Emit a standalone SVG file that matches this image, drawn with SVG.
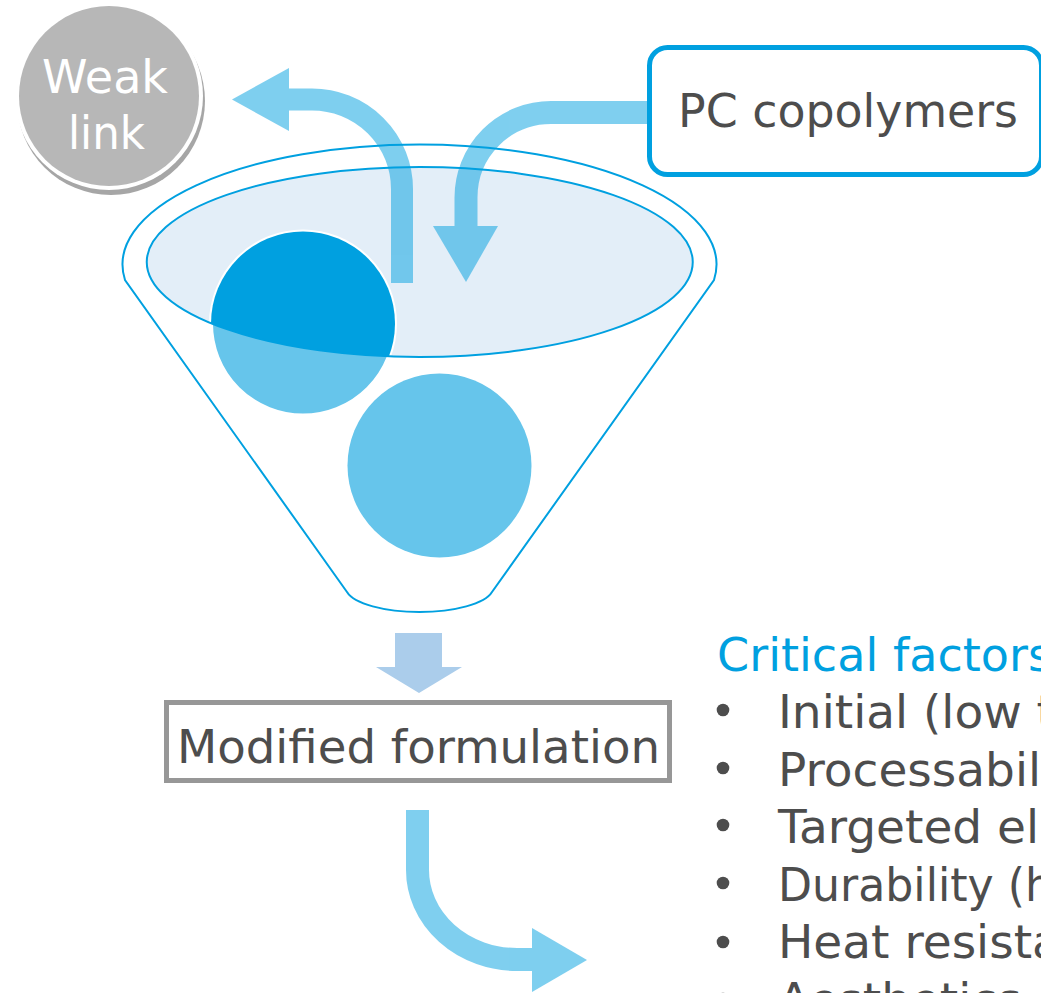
<svg xmlns="http://www.w3.org/2000/svg" width="1041" height="993" viewBox="0 0 1041 993">
  <defs>
    <style>
      text { font-family: "DejaVu Sans", "Liberation Sans", sans-serif; }
      .lbl { fill: #4d4d4d; font-size: 47px; }
      .wl { fill: #ffffff; font-size: 46px; }
      .head { fill: #00a0e0; font-size: 47px; }
      .flow { opacity: 0.5; }
      .flow path { fill: none; stroke: #00a0e0; }
      .flow polygon { fill: #00a0e0; }
      .line { fill: none; stroke: #00a0e0; stroke-width: 2; }
      .dot { fill: #4d4d4d; }
    </style>
    <clipPath id="mouth">
      <ellipse cx="419.75" cy="262" rx="273" ry="95"/>
    </clipPath>
  </defs>
  <rect width="1041" height="993" fill="#ffffff"/>

  <!-- funnel body, mouth and the two blended components -->
  <g id="funnel">
    <path class="line" fill="#ffffff" d="M347,592 L125,280 A297,120 0 1 1 714,280 L492,592 A74,25 0 0 1 347,592 Z"/>
    <ellipse cx="419.75" cy="262" rx="273" ry="95" fill="#e3eef8"/>
    <circle cx="303" cy="323.5" r="92" fill="#66c5eb" stroke="#ffffff" stroke-width="4"/>
    <circle cx="303" cy="323.5" r="92" fill="#00a0e0" clip-path="url(#mouth)"/>
    <circle cx="439.5" cy="465.5" r="92" fill="#66c5eb"/>
    <ellipse class="line" cx="419.75" cy="262" rx="273" ry="95"/>
  </g>

  <!-- flow arrows -->
  <g id="connectors">
    <g class="flow">
      <path stroke-width="22" d="M402,283 V189 A90,89.5 0 0 0 312,99.5 H288"/>
      <polygon points="289,68 232,99.5 289,131"/>
    </g>
    <g class="flow">
      <path stroke-width="23" d="M650,112.5 H551 A85,85 0 0 0 466,197.5 V228"/>
      <polygon points="433,226 498,226 466,282"/>
    </g>
    <polygon fill="#abcdeb" points="395,633 442,633 442,667 462,667 419,693 376,667 395,667"/>
    <g class="flow">
      <path stroke-width="23" d="M417.5,810 V870 A99.5,89.5 0 0 0 517,959.5 H534"/>
      <polygon points="532,928 587,960 532,992"/>
    </g>
  </g>

  <g id="weak-link">
    <circle cx="111" cy="101" r="94" fill="#a6a6a6"/>
    <circle cx="109" cy="96" r="94" fill="#ffffff"/>
    <circle cx="109" cy="96" r="90" fill="#b7b7b7"/>
    <text class="wl" x="42" y="93" textLength="126" lengthAdjust="spacingAndGlyphs">Weak</text>
    <text class="wl" x="68" y="149" textLength="77" lengthAdjust="spacingAndGlyphs">link</text>
  </g>

  <g id="pc-copolymers">
    <rect x="649.5" y="47.5" width="392" height="127" rx="18" fill="#ffffff" stroke="#00a0e0" stroke-width="5"/>
    <text class="lbl" x="678" y="127" textLength="340" lengthAdjust="spacingAndGlyphs">PC copolymers</text>
  </g>

  <g id="modified-formulation">
    <rect x="166.5" y="702.5" width="503" height="78" fill="#ffffff" stroke="#979797" stroke-width="5"/>
    <text class="lbl" x="177" y="763" textLength="483" lengthAdjust="spacingAndGlyphs">Modified formulation</text>
  </g>

  <g id="critical-factors">
    <text class="head" x="717" y="671" textLength="335" lengthAdjust="spacingAndGlyphs">Critical factors</text>
    <circle class="dot" cx="723" cy="710" r="6.3"/>
    <text class="lbl" x="778" y="728">Initial (low t</text>
    <circle class="dot" cx="723" cy="768" r="6.3"/>
    <text class="lbl" x="778" y="786">Processabil</text>
    <circle class="dot" cx="723" cy="825" r="6.3"/>
    <text class="lbl" x="778" y="843">Targeted el</text>
    <circle class="dot" cx="723" cy="883" r="6.3"/>
    <text class="lbl" x="778" y="901" textLength="275" lengthAdjust="spacingAndGlyphs">Durability (h</text>
    <circle class="dot" cx="723" cy="942" r="6.3"/>
    <text class="lbl" x="778" y="958">Heat resista</text>
    <circle class="dot" cx="723" cy="999" r="6.3"/>
    <text class="lbl" x="778" y="1016">Aesthetics</text>
  </g>
</svg>
